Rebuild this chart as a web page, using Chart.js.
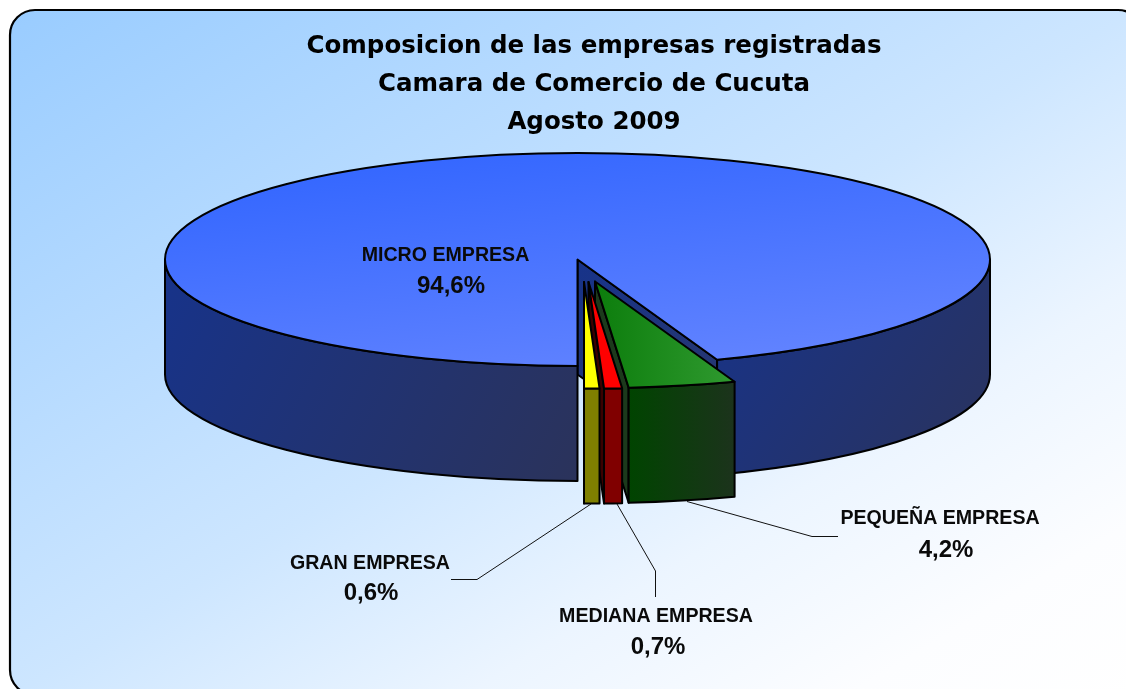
<!DOCTYPE html>
<html>
<head>
<meta charset="utf-8">
<style>html,body{margin:0;padding:0;background:#fff}canvas{display:block}</style>
<script src="https://cdn.jsdelivr.net/npm/chart.js@4/dist/chart.umd.min.js"></script>
</head>
<body>
<canvas id="c" width="1126" height="689"></canvas>
<script>
const titleLines = ['Composicion de las empresas registradas', 'Camara de Comercio de Cucuta', 'Agosto 2009'];
const categories = ['MICRO EMPRESA', 'PEQUEÑA EMPRESA', 'MEDIANA EMPRESA', 'GRAN EMPRESA'];
const shares = [94.6, 4.2, 0.7, 0.6];

const RADIUS = 412.5, SQUASH = 106.5 / 412.5, DEPTH = 115;
const PIE_X = 577.5, PIE_Y = 259.5;
const explode = [[0, 0], [17.5, 22], [11, 22.5], [6.5, 22.5]];
const topStops = [['#3366ff', '#6384ff'], ['#0c7d0c', '#309a30'], ['#ff0000', '#ff0000'], ['#ffff00', '#ffff00']];
const rimStops = [['#17338a', '#2c3358'], ['#004400', '#1c331c'], ['#800000', '#800000'], ['#808000', '#808000']];
const wallStops = [['#17338a', '#2c3866'], ['#1c3a1c', '#1c3a1c'], ['#3a0000', '#3a0000'], ['#333300', '#333300']];
const labelAnchors = [[445.5, 256, 451, 286], [940, 518.5, 946, 550], [656, 616.5, 658, 647], [370, 563.5, 371, 593]];
const leaders = [null, [[687, 501.5], [812, 536.5], [838, 536.5]], [[617, 504], [655.5, 571], [655.5, 597]], [[591, 504], [477, 579.5], [451, 579.5]]];
const backdropStops = [[0, '#99ccff'], [0.5, '#cde6ff'], [0.7, '#ecf5ff'], [0.87, '#fcfdff'], [1, '#ffffff']];

let geo = {tx: 0, cy: 0};
const sx = x => x + geo.tx;
const sy = y => PIE_Y + (y - geo.cy) * SQUASH;

function linear(ctx, x0, y0, x1, y1, stops) {
  const g = ctx.createLinearGradient(x0, y0, x1, y1);
  g.addColorStop(0, stops[0]); g.addColorStop(1, stops[1]);
  return g;
}

function topFill(c) {
  const i = c.dataIndex, chart = c.chart, area = chart.chartArea;
  if (!area) return topStops[i][0];
  const cx = (area.left + area.right) / 2, cy = (area.top + area.bottom) / 2;
  if (i === 0) return linear(chart.ctx, cx - RADIUS * 0.5, cy - RADIUS, cx + RADIUS * 0.5, cy + RADIUS, topStops[0]);
  return linear(chart.ctx, cx + explode[i][0], 0, cx + explode[i][0] + 141, 0, topStops[i]);
}

function rimPiece(ctx, a, x, y, lo, hi, i) {
  const X = sx(x), Y = sy(y), ry = RADIUS * SQUASH;
  const x0 = X + Math.cos(lo) * RADIUS, x1 = X + Math.cos(hi) * RADIUS;
  const minX = Math.min(x0, x1), maxX = Math.max(x0, x1);
  ctx.beginPath();
  ctx.ellipse(X, Y, RADIUS, ry, 0, lo, hi, false);
  ctx.ellipse(X, Y + DEPTH, RADIUS, ry, 0, hi, lo, true);
  ctx.closePath();
  const vertical = i === 0;
  ctx.fillStyle = vertical
    ? linear(ctx, minX, Y, maxX + 30, Y + ry + DEPTH, rimStops[i])
    : linear(ctx, minX, 0, maxX, 0, rimStops[i]);
  ctx.fill();
  ctx.stroke();
}

function sideWall(ctx, x, y, angle, i) {
  const X = sx(x), Y = sy(y), ry = RADIUS * SQUASH;
  const ex = X + Math.cos(angle) * RADIUS, ey = Y + Math.sin(angle) * ry;
  ctx.beginPath();
  ctx.moveTo(X, Y); ctx.lineTo(ex, ey); ctx.lineTo(ex, ey + DEPTH); ctx.lineTo(X, Y + DEPTH); ctx.closePath();
  ctx.fillStyle = linear(ctx, X, Y, ex, ey + DEPTH, wallStops[i]);
  ctx.fill();
  ctx.stroke();
}

const pie3d = {
  id: 'pie3d',
  beforeDraw(chart) {
    const ctx = chart.ctx;
    const L = 10, T = 10, W = 1133, H = 685, R = 25;
    const nx = 0.52, ny = 0.854, len = W * nx + H * ny;
    ctx.save();
    ctx.fillStyle = '#ffffff';
    ctx.fillRect(0, 0, chart.width, chart.height);
    ctx.beginPath();
    ctx.roundRect(L, T, W, H, R);
    const bg = ctx.createLinearGradient(L, T, L + nx * len, T + ny * len);
    backdropStops.forEach(s => bg.addColorStop(s[0], s[1]));
    ctx.fillStyle = bg;
    ctx.fill();
    ctx.lineWidth = 2.2;
    ctx.strokeStyle = '#000';
    ctx.stroke();
    ctx.restore();
  },
  afterDatasetsUpdate(chart) {
    const area = chart.chartArea;
    const cx = (area.left + area.right) / 2;
    geo.tx = PIE_X - cx;
    geo.cy = (area.top + area.bottom) / 2;
    chart.getDatasetMeta(0).data.forEach((arc, i) => {
      arc.x += explode[i][0];
      arc.y += explode[i][1] / SQUASH;
    });
  },
  beforeDatasetsDraw(chart) {
    const ctx = chart.ctx, arcs = chart.getDatasetMeta(0).data;
    ctx.save();
    ctx.lineWidth = 2;
    ctx.strokeStyle = '#000';
    ctx.lineJoin = 'round';
    [0, 1, 2, 3].forEach(i => {
      const a = arcs[i];
      sideWall(ctx, a.x, a.y, a.endAngle, i);
      for (let n = 0; n < 2; n++) {
        const lo = Math.max(a.startAngle, n * 2 * Math.PI), hi = Math.min(a.endAngle, n * 2 * Math.PI + Math.PI);
        if (hi > lo) rimPiece(ctx, a, a.x, a.y, lo, hi, i);
      }
    });
    ctx.restore();
    ctx.save();
    ctx.translate(geo.tx, PIE_Y);
    ctx.scale(1, SQUASH);
    ctx.translate(0, -geo.cy);
  },
  afterDatasetsDraw(chart) {
    const ctx = chart.ctx, arcs = chart.getDatasetMeta(0).data;
    ctx.restore();
    ctx.save();
    ctx.lineWidth = 2;
    ctx.strokeStyle = '#000';
    ctx.lineJoin = 'round';
    arcs.forEach(a => {
      const X = sx(a.x), Y = sy(a.y);
      ctx.beginPath();
      ctx.moveTo(X, Y);
      ctx.ellipse(X, Y, RADIUS, RADIUS * SQUASH, 0, a.startAngle, a.endAngle, false);
      ctx.closePath();
      ctx.stroke();
    });
    ctx.restore();
  },
  afterDraw(chart) {
    const ctx = chart.ctx;
    ctx.save();
    ctx.strokeStyle = '#111';
    ctx.lineWidth = 1;
    leaders.forEach(pts => {
      if (!pts) return;
      ctx.beginPath();
      pts.forEach((p, k) => k ? ctx.lineTo(p[0], p[1]) : ctx.moveTo(p[0], p[1]));
      ctx.stroke();
    });
    ctx.fillStyle = '#0a0a0a';
    ctx.textAlign = 'center';
    ctx.textBaseline = 'middle';
    categories.forEach((name, i) => {
      const p = labelAnchors[i];
      ctx.font = 'bold 19.6px "Liberation Sans", Arial, sans-serif';
      ctx.fillText(name, p[0], p[1]);
      ctx.font = 'bold 24px "Liberation Sans", Arial, sans-serif';
      ctx.fillText(shares[i].toFixed(1).replace('.', ',') + '%', p[2], p[3]);
    });
    ctx.restore();
  }
};

new Chart(document.getElementById('c'), {
  type: 'pie',
  plugins: [pie3d],
  data: {
    labels: categories,
    datasets: [{
      data: shares,
      backgroundColor: topFill,
      borderWidth: 0,
      clip: false
    }]
  },
  options: {
    responsive: false,
    animation: false,
    rotation: 180,
    radius: RADIUS,
    layout: {padding: {left: 62, right: 0, top: 0, bottom: 0}},
    plugins: {
      legend: {display: false},
      tooltip: {enabled: false},
      title: {
        display: true,
        text: titleLines,
        color: '#000',
        font: {family: '"DejaVu Sans", sans-serif', weight: 'bold', size: 24.5, lineHeight: 1.551},
        padding: {top: 28, bottom: 0}
      }
    }
  }
});
</script>
</body>
</html>
